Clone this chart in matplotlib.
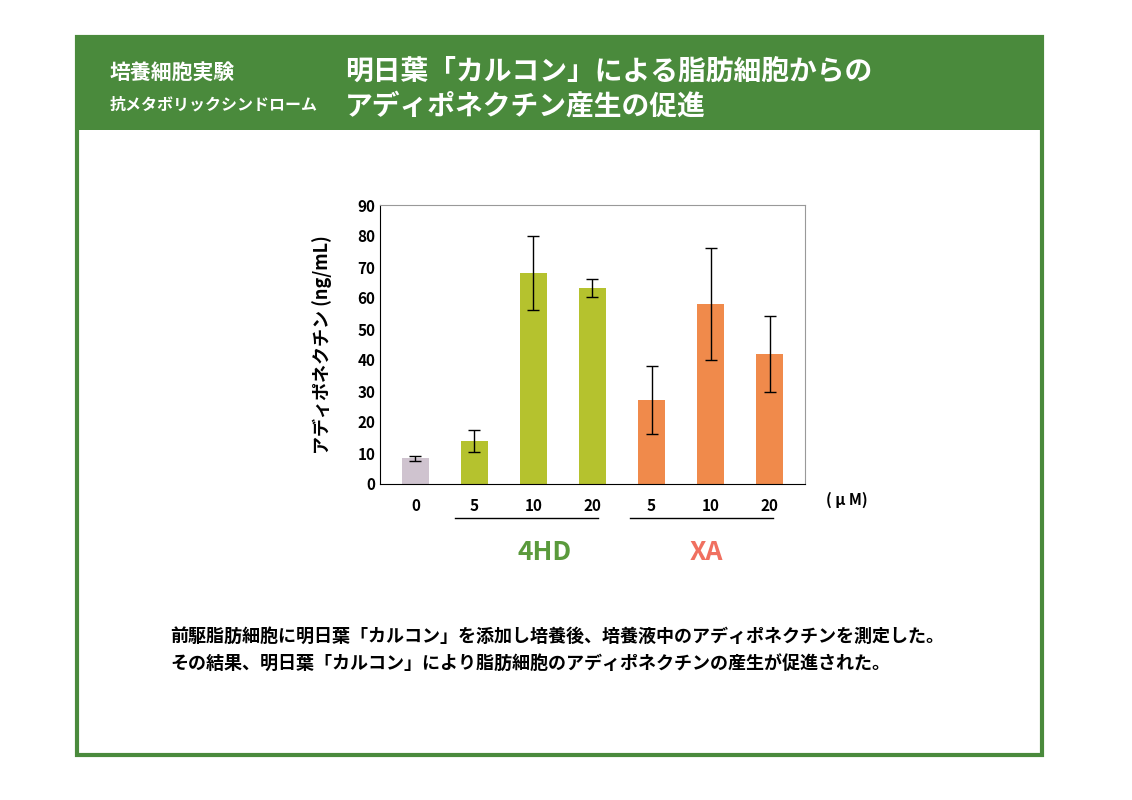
import matplotlib.pyplot as plt
from matplotlib.patches import Rectangle

plt.rcParams['font.family'] = ['Noto Sans CJK JP', 'DejaVu Sans']

# ============================================================
# Data
# ============================================================
tick_labels = ["0", "5", "10", "20", "5", "10", "20"]
values = [8.3, 13.8, 68.0, 63.2, 27.0, 58.0, 42.0]
errors = [0.8, 3.5, 12.0, 2.8, 11.0, 18.0, 12.2]
colors = ["#cfc3cf", "#b5c22e", "#b5c22e", "#b5c22e", "#f08a4b", "#f08a4b", "#f08a4b"]

fig = plt.figure(figsize=(11.32, 8), dpi=100)
W, H = 1132, 800

def fx(px):
    return px / W

def fy(py):
    return 1 - py / H

# frame and header band
fig.patches.append(Rectangle((fx(77), fy(755)), fx(1042) - fx(77), fy(37) - fy(755),
                             transform=fig.transFigure, fill=False, ec="#4a8a3c", lw=3))
fig.patches.append(Rectangle((fx(77), fy(130)), fx(1042) - fx(77), fy(37) - fy(130),
                             transform=fig.transFigure, fc="#4a8a3c", ec="none"))

fig.text(fx(110), fy(72), "培養細胞実験", color="white", fontsize=15, fontweight="bold", va="center")
fig.text(fx(110), fy(105), "抗メタボリックシンドローム", color="white", fontsize=11.5,
         fontweight="bold", va="center")
fig.text(fx(345), fy(72), "明日葉「カルコン」による脂肪細胞からの", color="white", fontsize=20,
         fontweight="bold", va="center")
fig.text(fx(345), fy(107), "アディポネクチン産生の促進", color="white", fontsize=20,
         fontweight="bold", va="center")

# chart
ax = fig.add_axes([fx(380), fy(484), fx(805) - fx(380), fy(205) - fy(484)])
x = list(range(len(values)))
ax.bar(x, values, width=0.45, color=colors, yerr=errors, capsize=4,
       error_kw={"elinewidth": 1, "ecolor": "black", "capthick": 1})
ax.set_xlim(-0.6, 6.6)
ax.set_ylim(0, 90)
ax.set_yticks(range(0, 91, 10))
ax.set_xticks(x)
ax.set_xticklabels(tick_labels, fontsize=11, fontweight="bold")
ax.tick_params(axis="y", labelsize=11, length=0)
ax.tick_params(axis="x", length=0, pad=10)
for lab in ax.get_yticklabels():
    lab.set_fontweight("bold")
for s in ax.spines.values():
    s.set_color("#999999")
ax.spines["left"].set_color("black")
ax.spines["bottom"].set_color("black")
ax.set_ylabel("アディポネクチン (ng/mL)", fontsize=13, fontweight="bold", labelpad=18)
ax.text(6.95, -5, "( μ M)", fontsize=11, fontweight="bold", ha="left", va="center", clip_on=False)

fig.lines.append(plt.Line2D([fx(455), fx(598)], [fy(518), fy(518)], transform=fig.transFigure, color="black", lw=1))
fig.lines.append(plt.Line2D([fx(630), fx(773)], [fy(518), fy(518)], transform=fig.transFigure, color="black", lw=1))
fig.text(fx(545), fy(553), "4HD", color="#5a9a3c", fontsize=19, fontweight="bold", ha="center", va="center")
fig.text(fx(706), fy(553), "XA", color="#f07060", fontsize=19, fontweight="bold", ha="center", va="center")

fig.text(fx(170), fy(636), "前駆脂肪細胞に明日葉「カルコン」を添加し培養後、培養液中のアディポネクチンを測定した。",
         fontsize=13, fontweight="bold", va="center")
fig.text(fx(170), fy(663), "その結果、明日葉「カルコン」により脂肪細胞のアディポネクチンの産生が促進された。",
         fontsize=13, fontweight="bold", va="center")

fig.savefig("out.png", dpi=100)
